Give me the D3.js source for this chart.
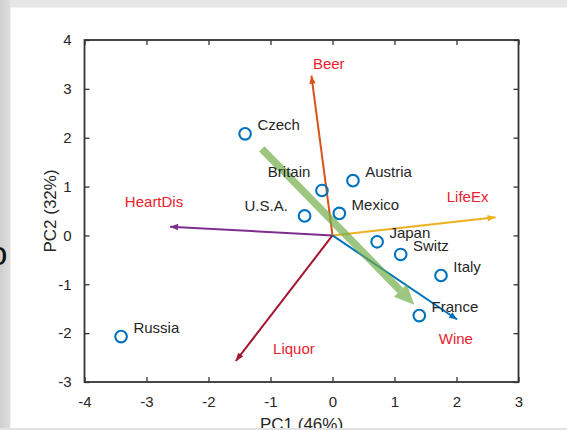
<!DOCTYPE html>
<html>
<head>
<meta charset="utf-8">
<script src="https://cdn.jsdelivr.net/npm/d3@7"></script>
<style>
  html, body { margin: 0; padding: 0; background: #e4e4e4; }
  svg { display: block; }
  text { font-family: "Liberation Sans", Arial, sans-serif; }
</style>
</head>
<body>
<svg id="chart" width="567" height="430"></svg>
<script>
// Country scores on the first two principal components
const countries = ["Czech", "Britain", "Austria", "U.S.A.", "Mexico", "Japan", "Switz", "Italy", "France", "Russia"];
const pc1 = [-1.41, -0.17, 0.33, -0.45, 0.11, 0.72, 1.10, 1.75, 1.40, -3.41];
const pc2 = [2.08, 0.92, 1.12, 0.40, 0.45, -0.13, -0.39, -0.82, -1.64, -2.07];

// Variable loadings (biplot vectors)
const variables = ["Beer", "LifeEx", "HeartDis", "Liquor", "Wine"];
const loadPC1 = [-0.34, 2.63, -2.62, -1.56, 2.01];
const loadPC2 = [3.27, 0.37, 0.18, -2.57, -1.72];

// Highlight arrow endpoints (PC1, PC2)
const trendStart = [-1.14, 1.77];
const trendEnd = [1.32, -1.42];

const xTicks = [-4, -3, -2, -1, 0, 1, 2, 3];
const yTicks = [-3, -2, -1, 0, 1, 2, 3, 4];
const xTitle = "PC1 (46%)";
const yTitle = "PC2 (32%)";

// ---- layout & style ----
const vecColors = { Beer: "#D95319", LifeEx: "#EDB120", HeartDis: "#7E2F8E", Liquor: "#A2142F", Wine: "#0072BD" };
// label offsets (px) from point / vector tip
const ptLabel = {
  default: { dx: 12.3, dy: -3.5, anchor: "start" },
  Britain: { dx: -11.6, dy: -13, anchor: "end" },
  "U.S.A.": { dx: -16.7, dy: -5, anchor: "end" }
};
const vecLabel = {
  Beer: { dx: 1.5, dy: -6.7 },
  LifeEx: { dx: -48.8, dy: -15 },
  HeartDis: { dx: -45.2, dy: -19.6 },
  Liquor: { dx: 37.3, dy: -7 },
  Wine: { dx: -18.4, dy: 25 }
};

const box = { left: 84.5, right: 518.5, top: 40, bottom: 382 };
const textColor = "#262626";
const fontSize = 15;

const svg = d3.select("#chart");

// page background: white panel with grey frame strips
svg.append("rect").attr("x", 0).attr("y", 0).attr("width", 567).attr("height", 430).attr("fill", "#e6e6e6");
const grad = svg.append("defs").append("linearGradient").attr("id", "leftShade").attr("x1", 0).attr("x2", 1);
grad.append("stop").attr("offset", 0).attr("stop-color", "#cfcfcf");
grad.append("stop").attr("offset", 1).attr("stop-color", "#dedede");
svg.append("rect").attr("x", 0).attr("y", 0).attr("width", 10.5).attr("height", 430).attr("fill", "url(#leftShade)");
svg.append("rect").attr("x", 10.5).attr("y", 7.5).attr("width", 567 - 10.5).attr("height", 428 - 7.5).attr("fill", "#ffffff");

// stray glyph from neighbouring slide text
svg.append("text").attr("x", -11.5).attr("y", 265).attr("font-size", 34).attr("fill", "#111").text("o");

const x = d3.scaleLinear().domain([-4, 3]).range([box.left, box.right]);
const y = d3.scaleLinear().domain([-3, 4]).range([box.bottom, box.top]);

const g = svg.append("g");

// axes: ticks point inward on all four sides; plain hyphen for negatives
const tickLen = 5;
const fmt = d => String(d);
const axisBottom = d3.axisBottom(x).tickValues(xTicks).tickSize(-tickLen).tickPadding(14).tickFormat(fmt);
const axisLeft = d3.axisLeft(y).tickValues(yTicks).tickSize(-tickLen).tickPadding(13).tickFormat(fmt);
const axisTop = d3.axisTop(x).tickValues(xTicks).tickSize(-tickLen).tickFormat("");
const axisRight = d3.axisRight(y).tickValues(yTicks).tickSize(-tickLen).tickFormat("");

function styleAxis(sel) {
  sel.select(".domain").remove();
  sel.selectAll(".tick line").attr("stroke", "#333").attr("stroke-width", 1.3);
  sel.selectAll(".tick text").attr("fill", textColor).attr("font-size", fontSize)
     .attr("font-family", "'Liberation Sans', Arial, sans-serif");
}
g.append("g").attr("transform", `translate(0,${box.bottom})`).call(axisBottom).call(styleAxis);
g.append("g").attr("transform", `translate(${box.left},0)`).call(axisLeft).call(styleAxis);
g.append("g").attr("transform", `translate(0,${box.top})`).call(axisTop).call(styleAxis);
g.append("g").attr("transform", `translate(${box.right},0)`).call(axisRight).call(styleAxis);

// loading vectors with small arrowheads
function arrowHead(x1, y1, x2, y2, len, half) {
  const a = Math.atan2(y2 - y1, x2 - x1);
  const bx = x2 - len * Math.cos(a), by = y2 - len * Math.sin(a);
  const px = -Math.sin(a) * half, py = Math.cos(a) * half;
  return `M${x2},${y2}L${bx + px},${by + py}L${bx - px},${by - py}Z`;
}
const vecG = g.append("g");
variables.forEach((v, i) => {
  const x0 = x(0), y0 = y(0), x1 = x(loadPC1[i]), y1 = y(loadPC2[i]);
  vecG.append("line").attr("x1", x0).attr("y1", y0).attr("x2", x1).attr("y2", y1)
    .attr("stroke", vecColors[v]).attr("stroke-width", 2);
  vecG.append("path").attr("d", arrowHead(x0, y0, x1, y1, 8, 3.2)).attr("fill", vecColors[v]);
  const o = vecLabel[v];
  vecG.append("text").attr("x", x1 + o.dx).attr("y", y1 + o.dy)
    .attr("font-size", fontSize).attr("fill", "#e8222e").text(v);
});

// highlight arrow
{
  const x0 = x(trendStart[0]), y0 = y(trendStart[1]), x1 = x(trendEnd[0]), y1 = y(trendEnd[1]);
  const a = Math.atan2(y1 - y0, x1 - x0);
  const headLen = 20;
  const sx = x1 - headLen * Math.cos(a), sy = y1 - headLen * Math.sin(a);
  const tg = g.append("g").attr("opacity", 0.68);
  tg.append("line").attr("x1", x0).attr("y1", y0).attr("x2", sx).attr("y2", sy)
    .attr("stroke", "#70AD47").attr("stroke-width", 7.5);
  tg.append("path").attr("d", arrowHead(x0, y0, x1, y1, headLen, 9)).attr("fill", "#70AD47");
}

// country scores
const ptG = g.append("g");
countries.forEach((c, i) => {
  const cx = x(pc1[i]), cy = y(pc2[i]);
  ptG.append("circle").attr("cx", cx).attr("cy", cy).attr("r", 5.8)
    .attr("fill", "none").attr("stroke", "#0072BD").attr("stroke-width", 2.1);
  const o = ptLabel[c] || ptLabel.default;
  ptG.append("text").attr("x", cx + o.dx).attr("y", cy + o.dy).attr("text-anchor", o.anchor)
    .attr("font-size", fontSize).attr("fill", textColor).text(c);
});

// axis box
g.append("rect").attr("x", box.left).attr("y", box.top)
  .attr("width", box.right - box.left).attr("height", box.bottom - box.top)
  .attr("fill", "none").attr("stroke", "#333").attr("stroke-width", 1.8);

// axis titles
g.append("text").attr("x", (box.left + box.right) / 2).attr("y", 429.5)
  .attr("text-anchor", "middle").attr("font-size", 17).attr("fill", textColor).text(xTitle);
g.append("text").attr("transform", `translate(56,${(box.top + box.bottom) / 2}) rotate(-90)`)
  .attr("text-anchor", "middle").attr("font-size", 17).attr("fill", textColor).text(yTitle);

// bottom frame strip over the clipped title
svg.append("rect").attr("x", 0).attr("y", 428).attr("width", 567).attr("height", 2).attr("fill", "#e2e2e2");
</script>
</body>
</html>
